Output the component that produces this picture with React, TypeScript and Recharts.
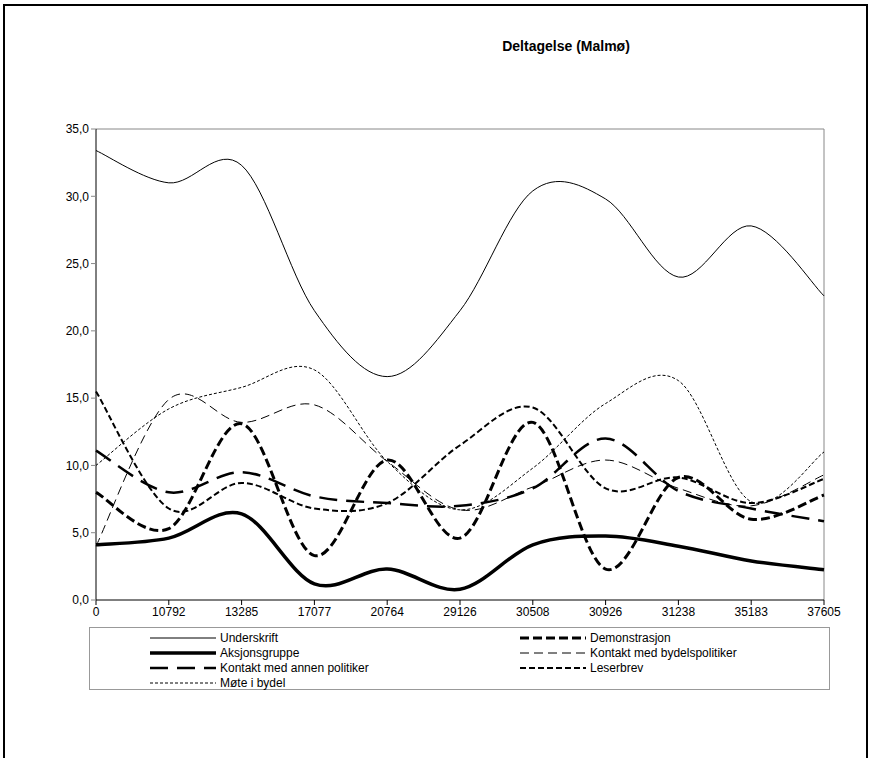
import { LineChart, Line, XAxis, YAxis, ReferenceLine } from 'recharts';

const categories = ['0', '10792', '13285', '17077', '20764', '29126', '30508', '30926', '31238', '35183', '37605'];

const underskrift = [33.4, 31.0, 32.3, 21.5, 16.6, 21.5, 30.4, 29.8, 24.0, 27.8, 22.6];
const aksjonsgruppe = [4.1, 4.6, 6.4, 1.2, 2.3, 0.8, 4.1, 4.75, 4.0, 2.9, 2.25];
const demonstrasjon = [8.0, 5.3, 13.1, 3.3, 10.4, 4.6, 13.2, 2.3, 9.1, 6.0, 7.8];
const bydelspolitiker = [4.0, 14.9, 13.2, 14.5, 10.3, 6.7, 8.4, 10.4, 8.3, 7.0, 9.3];
const annenPolitiker = [11.1, 8.0, 9.5, 7.7, 7.2, 7.0, 8.3, 12.0, 8.1, 6.8, 5.85];
const leserbrev = [15.5, 6.8, 8.7, 6.8, 7.2, 11.5, 14.3, 8.3, 9.1, 7.2, 9.0];
const moteIBydel = [10.0, 14.2, 15.8, 17.1, 10.3, 6.7, 9.8, 14.6, 16.3, 7.3, 11.0];

const yTicks = [0, 5, 10, 15, 20, 25, 30, 35];

// legend order: left column / right column, row by row
const SERIES = [
  { key: 'Underskrift', values: underskrift, width: 1, dash: undefined },
  { key: 'Demonstrasjon', values: demonstrasjon, width: 3, dash: '9 4' },
  { key: 'Aksjonsgruppe', values: aksjonsgruppe, width: 3.5, dash: undefined },
  { key: 'Kontakt med bydelspolitiker', values: bydelspolitiker, width: 1, dash: '9 5' },
  { key: 'Kontakt med annen politiker', values: annenPolitiker, width: 2.5, dash: '18 9' },
  { key: 'Leserbrev', values: leserbrev, width: 2, dash: '6 3' },
  { key: 'Møte i bydel', values: moteIBydel, width: 1, dash: '3 2' },
];

const data = categories.map((c, i) => {
  const row: Record<string, string | number> = { x: c };
  SERIES.forEach((s) => {
    row[s.key] = s.values[i];
  });
  return row;
});

// Excel-style smoothed line (Catmull-Rom as cubic bezier)
function excelCurve(context: any) {
  let pts: [number, number][] = [];
  return {
    areaStart() {},
    areaEnd() {},
    lineStart() {
      pts = [];
    },
    lineEnd() {
      if (!pts.length) return;
      context.moveTo(pts[0][0], pts[0][1]);
      for (let i = 0; i < pts.length - 1; i++) {
        const p0 = pts[i - 1] || pts[i];
        const p1 = pts[i];
        const p2 = pts[i + 1];
        const p3 = pts[i + 2] || p2;
        context.bezierCurveTo(
          p1[0] + (p2[0] - p0[0]) / 6,
          p1[1] + (p2[1] - p0[1]) / 6,
          p2[0] - (p3[0] - p1[0]) / 6,
          p2[1] - (p3[1] - p1[1]) / 6,
          p2[0],
          p2[1]
        );
      }
    },
    point(x: number, y: number) {
      pts.push([+x, +y]);
    },
  };
}

const FONT = '"Liberation Sans", Arial, sans-serif';

function LegendBox() {
  return (
    <div
      style={{
        position: 'absolute',
        left: 89,
        top: 627,
        border: '1px solid #999',
        background: '#fff',
        width: 741,
        height: 63,
        boxSizing: 'border-box',
        display: 'grid',
        gridTemplateColumns: '370px 370px',
        paddingTop: 2,
        fontFamily: FONT,
        fontSize: 12,
        color: '#000',
      }}
    >
      {SERIES.map((s) => (
        <div key={s.key} style={{ display: 'flex', alignItems: 'center', height: 15 }}>
          <svg width={66} height={8} style={{ marginLeft: 60, marginRight: 4 }}>
            <line x1={0} y1={4} x2={66} y2={4} stroke="#000" strokeWidth={s.width} strokeDasharray={s.dash} />
          </svg>
          <span>{s.key}</span>
        </div>
      ))}
    </div>
  );
}

export default function App() {
  return (
    <div style={{ position: 'absolute', left: 0, top: 0, width: 869, height: 758, overflow: 'hidden', background: '#fff' }}>
      <div
        style={{
          position: 'absolute',
          left: 3,
          top: 4,
          width: 865,
          height: 800,
          border: '2px solid #000',
          boxSizing: 'border-box',
        }}
      />
      <div
        style={{
          position: 'absolute',
          left: 466,
          width: 200,
          top: 38,
          textAlign: 'center',
          fontFamily: FONT,
          fontWeight: 'bold',
          fontSize: 14,
        }}
      >
        Deltagelse (Malmø)
      </div>
      <div style={{ position: 'absolute', left: 0, top: 0 }}>
        <LineChart width={869} height={758} data={data} margin={{ top: 129, right: 45, left: 36, bottom: 128 }}>
          <XAxis
            dataKey="x"
            stroke="#000"
            tickLine={{ stroke: '#000' }}
            tickSize={5}
            tick={{ fill: '#000', fontSize: 12, fontFamily: FONT }}
            interval={0}
            height={30}
          />
          <YAxis
            domain={[0, 35]}
            ticks={yTicks}
            stroke="#000"
            tickLine={{ stroke: '#888' }}
            tickSize={5}
            width={60}
            tick={{ fill: '#000', fontSize: 12, fontFamily: FONT }}
            tickFormatter={(v: number) => v.toFixed(1).replace('.', ',')}
            interval={0}
          />
          <ReferenceLine y={35} stroke="#888" />
          <ReferenceLine x="37605" stroke="#888" />
          {SERIES.map((s) => (
            <Line
              key={s.key}
              dataKey={s.key}
              type={excelCurve as any}
              stroke="#000"
              strokeWidth={s.width}
              strokeDasharray={s.dash}
              dot={false}
              activeDot={false}
              isAnimationActive={false}
            />
          ))}
        </LineChart>
      </div>
      <LegendBox />
    </div>
  );
}
